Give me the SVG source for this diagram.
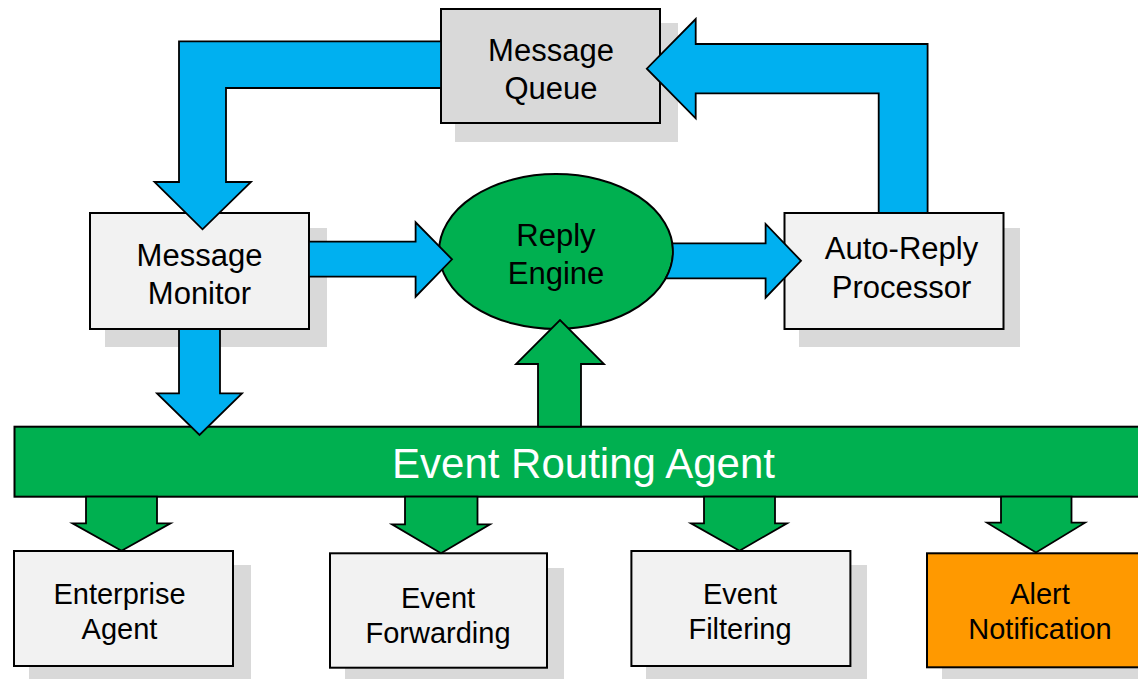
<svg xmlns="http://www.w3.org/2000/svg" width="1138" height="679" viewBox="0 0 1138 679">
<style>
.shadow{fill:#D9D9D9;stroke:none}
.box{fill:#F2F2F2;stroke:#000;stroke-width:2}
.gray{fill:#D9D9D9;stroke:#000;stroke-width:2}
.orange{fill:#FF9900;stroke:#000;stroke-width:2}
.green{fill:#00B050;stroke:#000;stroke-width:2}
.blue{fill:#00B0F0;stroke:#000;stroke-width:1.8;stroke-linejoin:miter}
.garrow{fill:#00B050;stroke:#000;stroke-width:1.8;stroke-linejoin:miter}
text{font-family:"Liberation Sans",Arial,sans-serif;fill:#000;text-anchor:middle}
.t31{font-size:31px}
.t29{font-size:29px}
.big{font-size:42px;fill:#fff}
</style>
<rect x="0" y="0" width="1138" height="679" fill="#fff"/>
<g id="shadows">
<rect class="shadow" x="455" y="23" width="223" height="119"/>
<rect class="shadow" x="105" y="228" width="222" height="119"/>
<rect class="shadow" x="799" y="228" width="221" height="119"/>
<rect class="shadow" x="29" y="565" width="222" height="120"/>
<rect class="shadow" x="345" y="568" width="219" height="120"/>
<rect class="shadow" x="646" y="565" width="221" height="120"/>
<rect class="shadow" x="942" y="568" width="220" height="120"/>
</g>
<g id="message-queue">
<rect class="gray" x="441" y="9" width="219" height="114"/>
<text class="t31" x="551" y="61">Message</text>
<text class="t31" x="551" y="99">Queue</text>
</g>
<g id="message-monitor">
<rect class="box" x="90" y="213" width="219" height="116"/>
<text class="t31" x="199.5" y="265.7">Message</text>
<text class="t31" x="199.5" y="304.3">Monitor</text>
</g>
<g id="reply-engine">
<ellipse class="green" cx="556" cy="251.5" rx="117" ry="77.5"/>
<text class="t31" x="556" y="246">Reply</text>
<text class="t31" x="556" y="284">Engine</text>
</g>
<g id="auto-reply-processor">
<rect class="box" x="784.5" y="213" width="219" height="116"/>
<text class="t31" x="901.5" y="259.3">Auto-Reply</text>
<text class="t31" x="901.5" y="297.7">Processor</text>
</g>
<g id="event-routing-agent">
<rect class="green" x="14.5" y="426.7" width="1140" height="70"/>
<text class="big" x="583.5" y="478.3">Event Routing Agent</text>
</g>
<g id="enterprise-agent">
<rect class="box" x="14" y="551" width="219" height="115"/>
<text class="t29" x="119.5" y="604.3">Enterprise</text>
<text class="t29" x="119.5" y="639.3">Agent</text>
</g>
<g id="event-forwarding">
<rect class="box" x="330" y="553.3" width="217" height="114.4"/>
<text class="t29" x="438" y="608.3">Event</text>
<text class="t29" x="438" y="643.3">Forwarding</text>
</g>
<g id="event-filtering">
<rect class="box" x="631.4" y="551" width="219" height="115"/>
<text class="t29" x="740" y="604.3">Event</text>
<text class="t29" x="740" y="639.3">Filtering</text>
</g>
<g id="alert-notification">
<rect class="orange" x="927" y="553.3" width="230" height="114"/>
<text class="t29" x="1040" y="604.3">Alert</text>
<text class="t29" x="1040" y="639.3">Notification</text>
</g>
<g id="connectors">
<path class="blue" d="M441,41.3 L179,41.3 L179,182 L154.5,182 L202.5,229.3 L251,182 L226,182 L226,88 L441,88 Z"/>
<path class="blue" d="M878.7,213 L878.7,93.3 L695.7,93.3 L695.7,118.3 L646.8,68.7 L695.7,19 L695.7,44 L927.6,44 L927.6,213 Z"/>
<path class="blue" d="M309,241.7 L415.6,241.7 L415.6,222.3 L452,259.3 L415.6,296.7 L415.6,276.7 L309,276.7 Z"/>
<path class="blue" d="M672.3,243.3 L765.6,243.3 L765.6,224 L801,260.8 L765.6,297.7 L765.6,278.3 L665.8,278.3 A117,77.5 0 0 0 672.3,243.3 Z"/>
<path class="blue" d="M179,329 L179,393.3 L157,393.3 L199.5,435 L242,393.3 L220,393.3 L220,329 Z"/>
<path class="garrow" d="M538,426.7 L538,364 L516,364 L560,320 L604,364 L581,364 L581,426.7 Z"/>
<path class="garrow" d="M86,496.7 L86,523.3 L72.5,523.3 L121.5,550.7 L170.5,523.3 L157,523.3 L157,496.7 Z"/>
<path class="garrow" d="M405,496.7 L405,524.3 L392,524.3 L441,553.3 L490,524.3 L477.5,524.3 L477.5,496.7 Z"/>
<path class="garrow" d="M704,496.7 L704,523.3 L691,523.3 L739.5,550.7 L787,523.3 L775,523.3 L775,496.7 Z"/>
<path class="garrow" d="M1001,496.7 L1001,522.7 L987,522.7 L1036,552.5 L1085,522.7 L1071.5,522.7 L1071.5,496.7 Z"/>
</g>
</svg>
